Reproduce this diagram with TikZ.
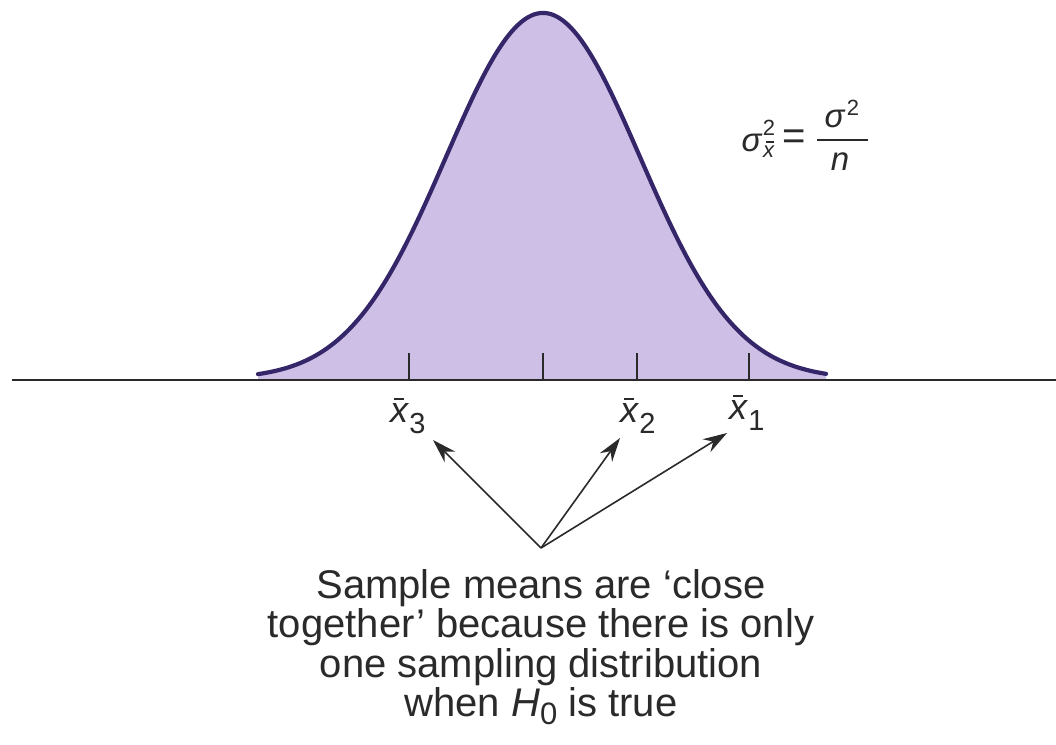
\documentclass[tikz,border=0pt]{standalone}
\usepackage{fontspec}
\setmainfont{Liberation Sans}
\usetikzlibrary{arrows.meta}
\definecolor{curvecol}{HTML}{35266A}
\definecolor{fillcol}{HTML}{CDBFE5}
\definecolor{inkcol}{HTML}{2A2A2A}
\tikzset{
  lbl/.style={font=\fontsize{36}{38}\selectfont, text=inkcol, inner sep=0pt},
  fml/.style={font=\fontsize{33}{34}\selectfont, text=inkcol, inner sep=0pt},
  fmlsmall/.style={font=\fontsize{22}{23}\selectfont, text=inkcol, inner sep=0pt},
  tick/.style={draw=inkcol, line width=1.6pt},
  rulestyle/.style={draw=inkcol, line width=2pt},
  pointer/.style={draw=inkcol, line width=1.6pt, -{Stealth[length=24pt,width=15pt]}},
}
\newcommand{\xbar}[1]{\rlap{\hspace{4pt}\rule[22pt]{10pt}{1.6pt}}\textit{x}\raisebox{-11pt}{\fontsize{29}{29}\selectfont #1}}
\begin{document}
\begin{tikzpicture}[x=1pt,y=-1pt]
\useasboundingbox[fill=white] (0,0) rectangle (1056,744);
% bell curve
\fill[fillcol] plot[domain=258:826,samples=200] (\x,{379-366*exp(-((\x-543)/97)^2/2)}) -- (826,380) -- (258,380) -- cycle;
\draw[curvecol, line width=4.2pt, line cap=round] plot[domain=258:826,samples=200] (\x,{379-366*exp(-((\x-543)/97)^2/2)});
% axis
\draw[inkcol, line width=1.8pt] (12,380) -- (1056,380);
% ticks
\coordinate (t3) at (409,380);
\coordinate (tm) at (543,380);
\coordinate (t2) at (637,380);
\coordinate (t1) at (749,380);
\foreach \t in {t3,tm,t2,t1} \draw[tick] (\t) -- ++(0,-27);
% labels
\node[lbl, anchor=base west] (x3) at (390,422) {\xbar{3}};
\node[lbl, anchor=base west] (x2) at (620,422) {\xbar{2}};
\node[lbl, anchor=base west] (x1) at (729,419) {\xbar{1}};
% formula
\node[fml] (sig) at (752,143) {\textit{σ}};
\node[fmlsmall, anchor=base] (sup) at (769,135) {2};
\node[fmlsmall, anchor=base] (subx) at (769,157) {\textit{x}};
\draw[inkcol, line width=1.5pt] ([xshift=-3pt,yshift=3pt]subx.north) -- ([xshift=5pt,yshift=3pt]subx.north);
\node[fml, font=\fontsize{40}{40}\selectfont] (eq) at (794,140) {=};
\coordinate (fbl) at (817,140);
\coordinate (fbr) at (868,140);
\draw[rulestyle] (fbl) -- (fbr);
\node[fml] (nsig) at (835,119) {\textit{σ}};
\node[fmlsmall, anchor=base] (nsup) at (853,115) {2};
\node[fml, anchor=base] (den) at (840,170) {\textit{n}};
% arrows
\coordinate (src) at (541,548);
\draw[pointer] (src) -- (433,440);
\draw[pointer] (src) -- (620,438);
\draw[pointer] (src) -- (727,433);
% caption
\node[font=\fontsize{40}{39.3}\selectfont, text=inkcol, align=center, anchor=north] (cap) at (541,566)
 {Sample means are ‘close\\together’ because there is only\\one sampling distribution\\when \textit{H}{\fontsize{31}{31}\selectfont\raisebox{-8pt}{0}} is true};
\end{tikzpicture}
\end{document}
